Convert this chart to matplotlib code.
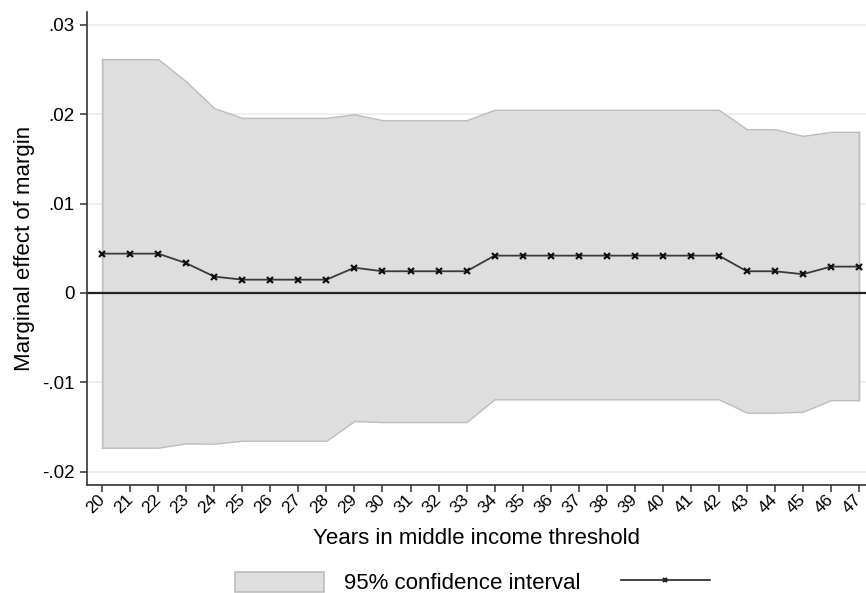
import matplotlib
matplotlib.use("Agg")
import matplotlib.pyplot as plt
from matplotlib.patches import Patch
from matplotlib.lines import Line2D

plt.rcParams['font.family'] = ['Liberation Sans', 'DejaVu Sans']

years = list(range(20, 48))
margin = [0.0044, 0.0044, 0.0044, 0.00333, 0.00183, 0.00149, 0.00149, 0.00149,
          0.00149, 0.00283, 0.00243, 0.00243, 0.00243, 0.00243, 0.00418, 0.00418,
          0.00418, 0.00418, 0.00418, 0.00418, 0.00418, 0.00418, 0.00418, 0.00243,
          0.00243, 0.0021, 0.00295, 0.00295]
ci_upper = [0.02617, 0.02617, 0.02617, 0.02366, 0.02068, 0.0196, 0.0196, 0.0196,
            0.0196, 0.0200, 0.01934, 0.01934, 0.01934, 0.01934, 0.0205, 0.0205,
            0.0205, 0.0205, 0.0205, 0.0205, 0.0205, 0.0205, 0.0205, 0.01833,
            0.01833, 0.01758, 0.01803, 0.01803]
ci_lower = [-0.01732, -0.01732, -0.01732, -0.01684, -0.01687, -0.01654, -0.01654,
            -0.01654, -0.01654, -0.01433, -0.01445, -0.01445, -0.01445, -0.01445,
            -0.0119, -0.0119, -0.0119, -0.0119, -0.0119, -0.0119, -0.0119, -0.0119,
            -0.0119, -0.0134, -0.0134, -0.0133, -0.0120, -0.0120]
y_ticks = [-0.02, -0.01, 0, 0.01, 0.02, 0.03]
y_tick_labels = ['-.02', '-.01', '0', '.01', '.02', '.03']

fig = plt.figure(figsize=(8.66, 5.93), dpi=100)
ax = fig.add_axes([0.1005, 0.182, 0.8995, 0.798])

for yt in y_ticks:
    ax.axhline(yt, color='#e6eff1', lw=1.2, zorder=0)

ax.fill_between(years, ci_lower, ci_upper, facecolor='#dedede',
                edgecolor='#bdbdbd', lw=1.0, zorder=1)
ax.plot([years[0], years[0]], [ci_lower[0], ci_upper[0]], color='#bdbdbd', lw=1.0, zorder=1)
ax.plot([years[-1], years[-1]], [ci_lower[-1], ci_upper[-1]], color='#bdbdbd', lw=1.0, zorder=1)
ax.axhline(0, color='#222222', lw=1.6, zorder=2)
ax.plot(years, margin, color='#3a3a3a', lw=1.3, marker='x', ms=4,
        mew=1.6, mec='#111111', zorder=3)

ax.set_xlim(19.46, 47.25)
ax.set_ylim(-0.0215, 0.03146)
ax.set_xticks(years)
ax.set_xticklabels([str(y) for y in years], rotation=45, ha='right', va='center',
                   rotation_mode='anchor', fontsize=12.5)
ax.set_yticks(y_ticks)
ax.set_yticklabels(y_tick_labels, fontsize=13.5)
ax.tick_params(axis='both', direction='out', length=5, width=1.1, color='#333333')
ax.tick_params(axis='x', pad=4)
ax.tick_params(axis='y', pad=4)

for side in ['top', 'right']:
    ax.spines[side].set_visible(False)
for side in ['left', 'bottom']:
    ax.spines[side].set_color('#333333')
    ax.spines[side].set_linewidth(1.2)

ax.set_xlabel('Years in middle income threshold', fontsize=16, labelpad=8)
ax.set_ylabel('Marginal effect of margin', fontsize=16, labelpad=5)

handles = [Patch(facecolor='#dedede', edgecolor='#bdbdbd', lw=1.2),
           Line2D([0], [0], color='#222222', lw=1.2, marker='x', ms=3.5, mew=1.5)]
fig.legend(handles, ['95% confidence interval', ''], loc='center',
           bbox_to_anchor=(0.557, 0.017), ncol=2, frameon=False, fontsize=16,
           handlelength=4.0, handleheight=1.0, columnspacing=1.8, handletextpad=0.9)

fig.savefig('out.png', dpi=100)
